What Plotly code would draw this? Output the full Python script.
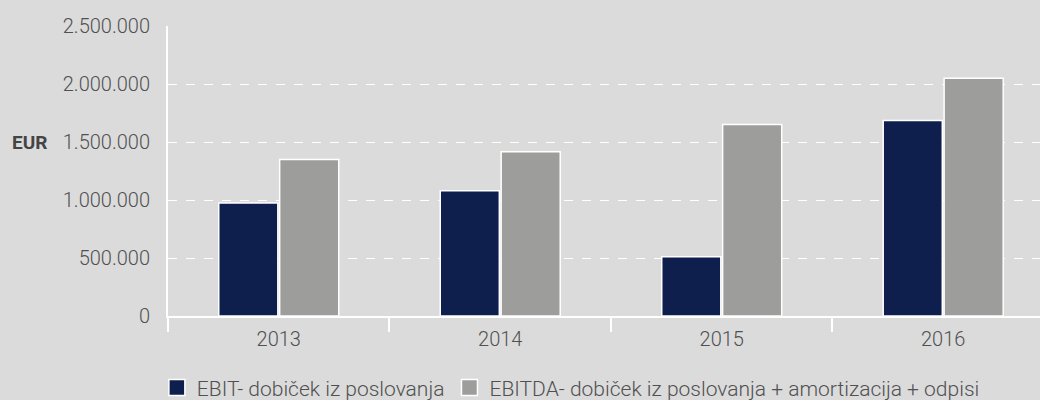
import plotly.graph_objects as go

years = ["2013", "2014", "2015", "2016"]
ebit = [975000, 1080000, 510000, 1685000]
ebitda = [1350000, 1415000, 1650000, 2050000]
y_ticks = [0, 500000, 1000000, 1500000, 2000000, 2500000]
names = ["EBIT- dobiček iz poslovanja",
         "EBITDA- dobiček iz poslovanja + amortizacija + odpisi"]

NAVY = "#0e1f4d"
GREY = "#9d9d9b"
BG = "#dbdbdb"
TXT = "#505050"
FONT = "Roboto"

fig = go.Figure()
for name, vals, col in [(names[0], ebit, NAVY), (names[1], ebitda, GREY)]:
    fig.add_trace(go.Bar(name=name, x=years, y=vals, showlegend=False,
                         marker=dict(color=col, line=dict(color="white", width=1.5))))
# legend entries with larger square swatches
for name, col in [(names[0], NAVY), (names[1], GREY)]:
    fig.add_trace(go.Scatter(name=name, x=[None], y=[None], mode="markers",
                             marker=dict(symbol="square", size=20, color=col,
                                         line=dict(color="white", width=1.5)),
                             hoverinfo="skip"))

fig.update_layout(
    width=1040, height=400,
    paper_bgcolor=BG, plot_bgcolor=BG,
    margin=dict(l=168, r=0, t=26, b=84, autoexpand=False),
    barmode="group", bargap=0.45, bargroupgap=0.03,
    separators=",.",
    font=dict(family=FONT, color=TXT, size=18),
    showlegend=True,
    legend=dict(orientation="h", x=0.462, xanchor="center", y=-0.248, yanchor="middle",
                font=dict(size=21, color=TXT, family=FONT, weight=300),
                bgcolor="rgba(0,0,0,0)", traceorder="normal", itemsizing="trace"),
    xaxis=dict(type="category", range=[-0.5, 3.437], showgrid=False,
               showline=True, linecolor="white", linewidth=2,
               ticks="outside", tickson="boundaries", ticklen=14, tickcolor="white", tickwidth=2,
               ticklabelstandoff=4,
               tickfont=dict(size=20, color=TXT, family=FONT, weight=300)),
    yaxis=dict(range=[0, 2500000], tickvals=y_ticks, tickformat=",d",
               showgrid=True, gridcolor="white", griddash="dash", gridwidth=1,
               zeroline=False,
               showline=True, linecolor="white", linewidth=2,
               ticks="", ticklabelstandoff=12,
               tickfont=dict(size=20, color=TXT, family=FONT, weight=300)),
    annotations=[dict(text="<b>EUR</b>", xref="paper", yref="y", x=-0.181, y=1500000,
                      xanchor="left", yanchor="middle", showarrow=False,
                      font=dict(size=19, color="#444444", family=FONT))],
)

fig.write_html("out.html", config={"displayModeBar": False},
               post_script="document.body.style.margin='0';")
